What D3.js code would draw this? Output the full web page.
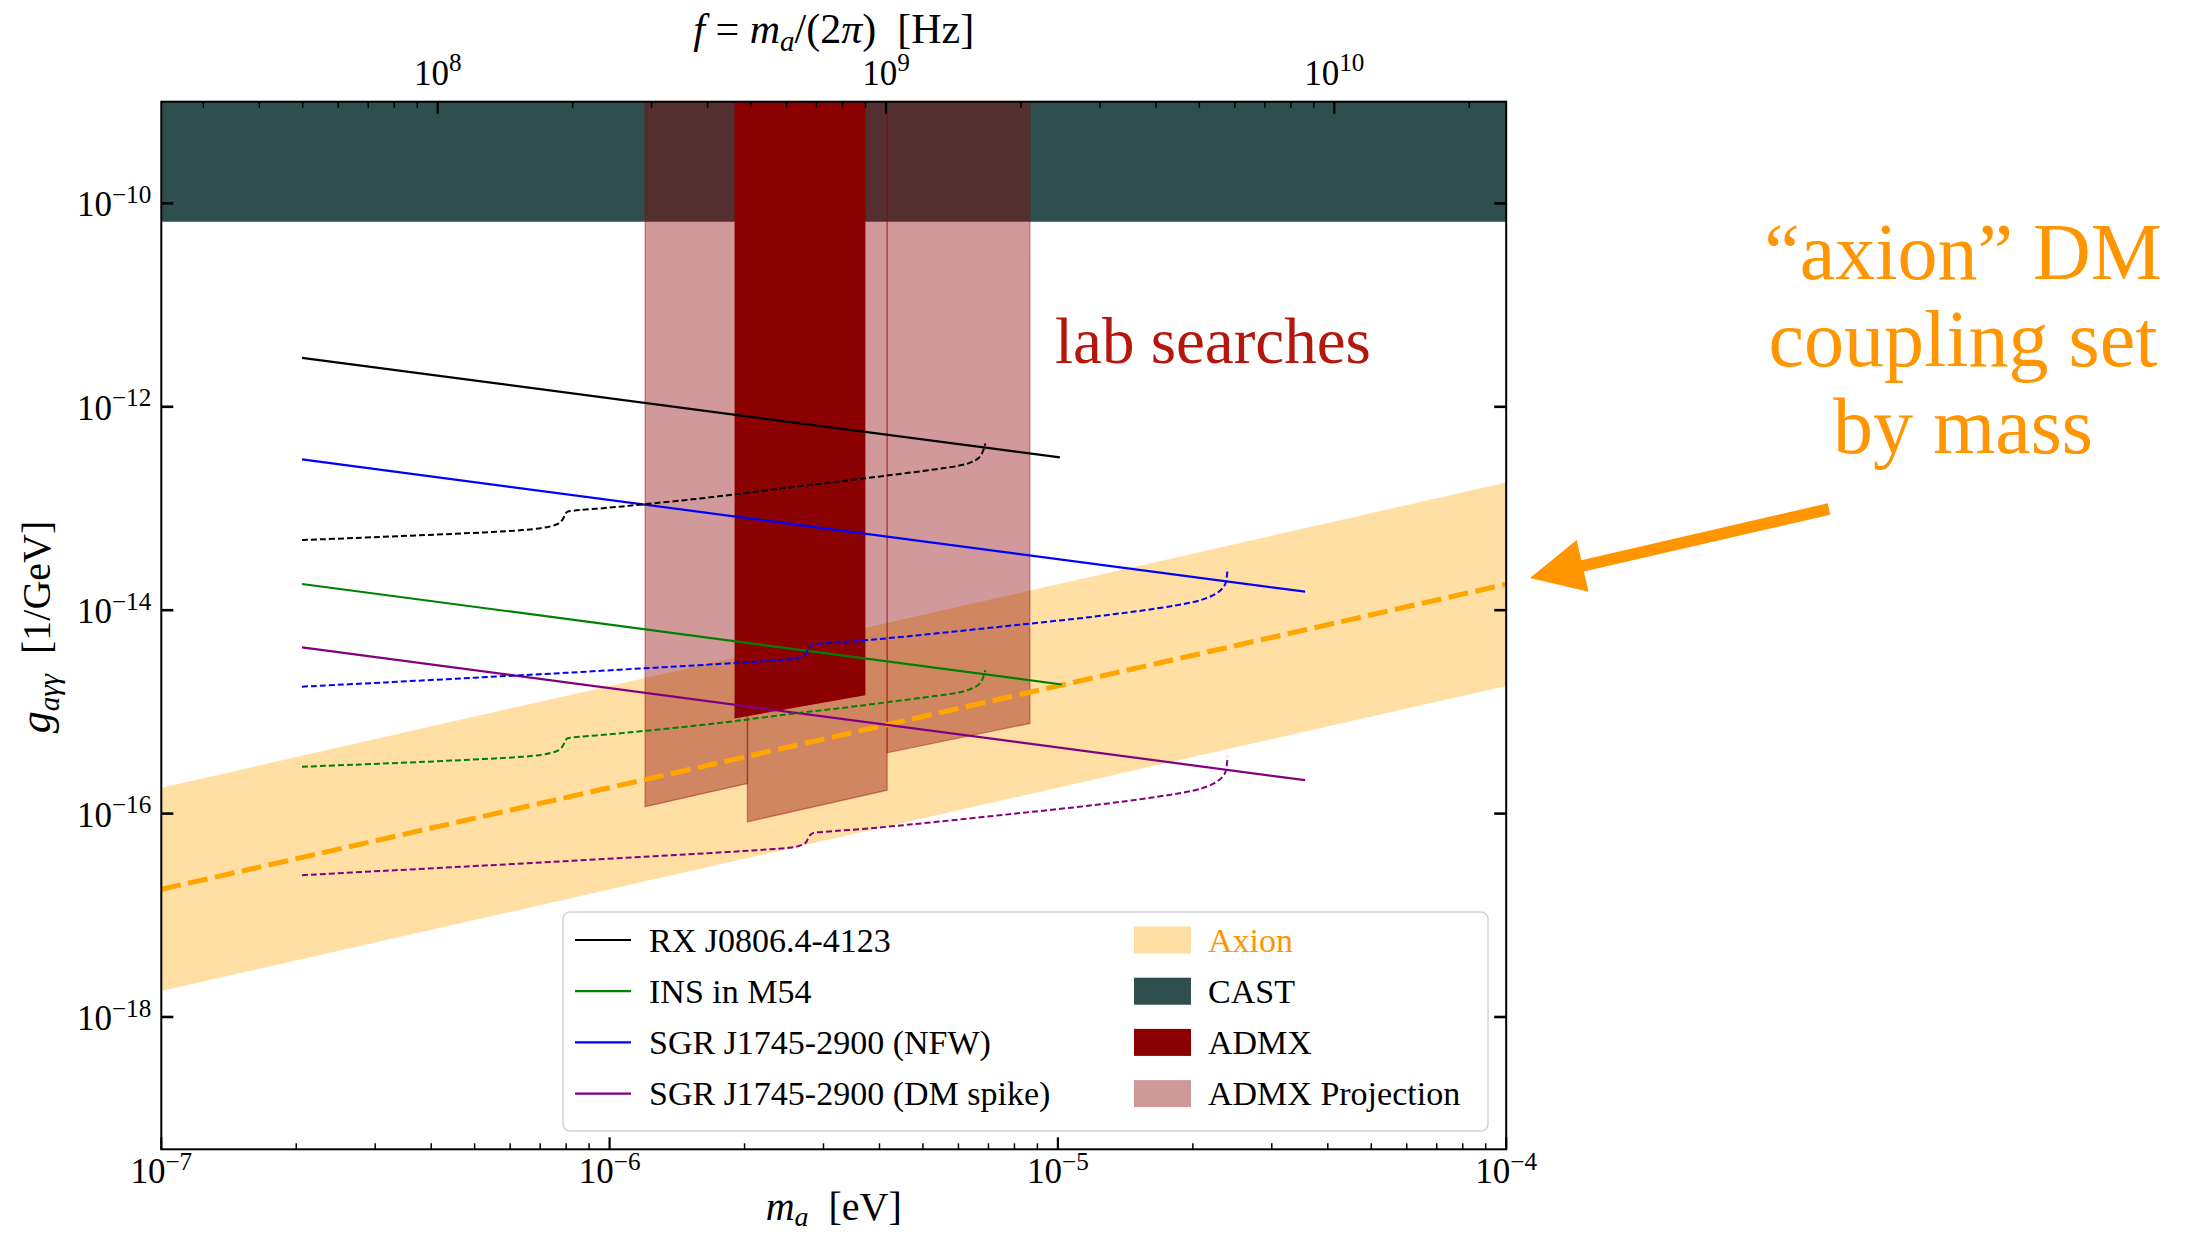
<!DOCTYPE html>
<html>
<head>
<meta charset="utf-8">
<script src="https://cdn.jsdelivr.net/npm/d3@7"></script>
<style>
  body { margin: 0; background: #fff; }
  text { font-family: "Liberation Serif", "Times New Roman", serif; }
</style>
</head>
<body>
<svg id="chart" width="2206" height="1241"></svg>
<script>
// ---- axis ranges and ticks ----
const massDomain = [1e-7, 1e-4];          // eV
const couplingDomain = [5e-20, 1e-9];     // 1/GeV
const eVtoHz = 2.418e14;                  // f = m / (2 pi hbar)
const massMajorTicks = [1e-7, 1e-6, 1e-5, 1e-4];
const couplingMajorTicks = [1e-18, 1e-16, 1e-14, 1e-12, 1e-10];
const freqMajorTicks = [1e8, 1e9, 1e10];

// ---- excluded / target regions ----
const castLimit = 6.6e-11;
const axionMass = [1e-7, 1e-4];
const axionCentral = [1.8e-17, 1.8e-14];
const axionLower = [1.8e-18, 1.8e-15];
const axionUpper = [1.8e-16, 1.8e-13];

const admxMass = [1.90e-6, 3.72e-6];
const admxFloor = [8.63e-16, 1.46e-15];

const projectionMass = [[1.20e-6, 2.03e-6], [2.03e-6, 4.16e-6], [4.16e-6, 8.66e-6]];
const projectionFloor = [[1.17e-16, 1.98e-16], [8.30e-17, 1.70e-16], [3.96e-16, 7.71e-16]];

// ---- neutron star radio limits (solid) ----
const rxMass = [2.06e-7, 1.01e-5];
const rxLimit = [3.03e-12, 3.18e-13];
const m54Mass = [2.06e-7, 1.02e-5];
const m54Limit = [1.81e-14, 1.86e-15];
const nfwMass = [2.06e-7, 3.56e-5];
const nfwLimit = [3.04e-13, 1.52e-14];
const spikeMass = [2.06e-7, 3.56e-5];
const spikeLimit = [4.31e-15, 2.13e-16];

// ---- projected sensitivity curves (dotted) ----
const isolatedReachMass = [2.06e-7, 2.67e-7, 3.88e-7, 5.24e-7, 6.39e-7, 7.06e-7, 7.42e-7, 7.70e-7,
  7.86e-7, 7.96e-7, 8.05e-7, 8.30e-7, 1.00e-6, 1.19e-6, 1.53e-6, 1.91e-6, 2.51e-6, 3.22e-6,
  4.13e-6, 5.30e-6, 6.00e-6, 6.39e-6, 6.64e-6, 6.77e-6, 6.84e-6, 6.89e-6];
const rxReach = [4.89e-14, 5.12e-14, 5.48e-14, 5.82e-14, 6.13e-14, 6.42e-14, 6.71e-14, 7.13e-14,
  7.81e-14, 8.74e-14, 9.29e-14, 9.50e-14, 1.02e-13, 1.10e-13, 1.23e-13, 1.38e-13, 1.61e-13, 1.83e-13,
  2.10e-13, 2.42e-13, 2.63e-13, 2.84e-13, 3.11e-13, 3.48e-13, 3.90e-13, 4.36e-13];
const m54Reach = [2.89e-16, 3.02e-16, 3.23e-16, 3.44e-16, 3.62e-16, 3.79e-16, 3.96e-16, 4.21e-16,
  4.61e-16, 5.16e-16, 5.48e-16, 5.61e-16, 6.02e-16, 6.49e-16, 7.26e-16, 8.14e-16, 9.50e-16, 1.08e-15,
  1.24e-15, 1.43e-15, 1.55e-15, 1.68e-15, 1.84e-15, 2.05e-15, 2.30e-15, 2.57e-15];

const galacticReachMass = [2.06e-7, 3.16e-7, 5.01e-7, 7.94e-7, 1.26e-6, 1.78e-6, 2.24e-6, 2.51e-6,
  2.66e-6, 2.74e-6, 2.77e-6, 2.81e-6, 2.85e-6, 3.02e-6, 3.98e-6, 5.37e-6, 7.94e-6, 1.20e-5,
  1.66e-5, 2.00e-5, 2.16e-5, 2.29e-5, 2.36e-5, 2.38e-5, 2.39e-5];
const nfwReach = [1.77e-15, 1.95e-15, 2.17e-15, 2.42e-15, 2.72e-15, 2.97e-15, 3.16e-15, 3.29e-15,
  3.45e-15, 3.70e-15, 4.06e-15, 4.45e-15, 4.61e-15, 4.71e-15, 5.20e-15, 5.92e-15, 7.09e-15, 8.63e-15,
  1.04e-14, 1.20e-14, 1.33e-14, 1.53e-14, 1.79e-14, 2.10e-14, 2.58e-14];
const spikeReach = [2.48e-17, 2.74e-17, 3.05e-17, 3.40e-17, 3.81e-17, 4.16e-17, 4.43e-17, 4.61e-17,
  4.84e-17, 5.19e-17, 5.69e-17, 6.24e-17, 6.46e-17, 6.61e-17, 7.29e-17, 8.30e-17, 9.95e-17, 1.21e-16,
  1.46e-16, 1.68e-16, 1.86e-16, 2.14e-16, 2.51e-16, 2.95e-16, 3.62e-16];

// ---- legend ----
const lineLegend = [
  { label: "RX J0806.4-4123", color: "#000000" },
  { label: "INS in M54", color: "#008000" },
  { label: "SGR J1745-2900 (NFW)", color: "#0000ff" },
  { label: "SGR J1745-2900 (DM spike)", color: "#800080" }
];
const patchLegend = [
  { label: "Axion", color: "#ffdea4", text: "#ff9500" },
  { label: "CAST", color: "#2f4f4f", text: "#000000" },
  { label: "ADMX", color: "#8b0000", text: "#000000" },
  { label: "ADMX Projection", color: "#d09999", text: "#000000" }
];

// ================= drawing =================
const W = 2206, H = 1241;
const plot = { left: 161.3, right: 1506.2, top: 101.7, bottom: 1149.3 };
const svg = d3.select("#chart");
svg.append("rect").attr("width", W).attr("height", H).attr("fill", "#fff");

const x = d3.scaleLog().domain(massDomain).range([plot.left, plot.right]);
const y = d3.scaleLog().domain(couplingDomain).range([plot.bottom, plot.top]);
const xf = d3.scaleLog().domain(massDomain.map(m => m * eVtoHz)).range([plot.left, plot.right]);

svg.append("defs").append("clipPath").attr("id", "plot-clip").append("rect")
  .attr("x", plot.left).attr("y", plot.top)
  .attr("width", plot.right - plot.left).attr("height", plot.bottom - plot.top);
const layer = svg.append("g").attr("clip-path", "url(#plot-clip)");

const zip = (ms, gs) => ms.map((m, i) => [m, gs[i]]);
const line = d3.line().x(d => x(d[0])).y(d => y(d[1]));
const smooth = d3.line().x(d => x(d[0])).y(d => y(d[1])).curve(d3.curveCatmullRom.alpha(0.5));

// axion band
layer.append("path")
  .datum(axionMass.map((m, i) => ({ m, lo: axionLower[i], hi: axionUpper[i] })))
  .attr("d", d3.area().x(d => x(d.m)).y0(d => y(d.lo)).y1(d => y(d.hi)))
  .attr("fill", "#ffa500").attr("fill-opacity", 0.36);

// CAST exclusion
layer.append("path")
  .datum(massDomain)
  .attr("d", d3.area().x(d => x(d)).y0(y(castLimit)).y1(y(couplingDomain[1])))
  .attr("fill", "#2f4f4f");

// ADMX projected reach
projectionMass.forEach((ms, i) => {
  const pts = [[ms[0], couplingDomain[1]], [ms[1], couplingDomain[1]],
               [ms[1], projectionFloor[i][1]], [ms[0], projectionFloor[i][0]]];
  layer.append("path").attr("d", line(pts) + "Z")
    .attr("fill", "#8b0000").attr("fill-opacity", 0.4)
    .attr("stroke", "#8b0000").attr("stroke-opacity", 0.4).attr("stroke-width", 1.3);
});

// ADMX exclusion
{
  const pts = [[admxMass[0], couplingDomain[1]], [admxMass[1], couplingDomain[1]],
               [admxMass[1], admxFloor[1]], [admxMass[0], admxFloor[0]]];
  layer.append("path").attr("d", line(pts) + "Z").attr("fill", "#8b0000");
}

// QCD axion relation
layer.append("path").datum(zip(axionMass, axionCentral)).attr("d", line)
  .attr("fill", "none").attr("stroke", "#ffa500").attr("stroke-width", 5)
  .attr("stroke-dasharray", "20 7.5");

// limits
const solid = [
  [rxMass, rxLimit, "#000000"], [m54Mass, m54Limit, "#008000"],
  [nfwMass, nfwLimit, "#0000ff"], [spikeMass, spikeLimit, "#800080"]
];
solid.forEach(([ms, gs, c]) => {
  layer.append("path").datum(zip(ms, gs)).attr("d", line)
    .attr("fill", "none").attr("stroke", c).attr("stroke-width", 2.2);
});
const dotted = [
  [isolatedReachMass, rxReach, "#000000"], [isolatedReachMass, m54Reach, "#008000"],
  [galacticReachMass, nfwReach, "#0000ff"], [galacticReachMass, spikeReach, "#800080"]
];
dotted.forEach(([ms, gs, c]) => {
  layer.append("path").datum(zip(ms, gs)).attr("d", smooth)
    .attr("fill", "none").attr("stroke", c).attr("stroke-width", 2)
    .attr("stroke-dasharray", "6 3");
});

// ---- frame and ticks ----
const axes = svg.append("g");
function powerText(sel, exp, size) {
  sel.append("tspan").attr("font-size", size).text("10");
  sel.append("tspan").attr("font-size", size * 0.72).attr("dy", -size * 0.38)
    .text(exp < 0 ? "\u2212" + (-exp) : String(exp));
}
const minorTicks = (lo, hi) => {
  const out = [];
  for (let e = Math.floor(Math.log10(lo)); e <= Math.ceil(Math.log10(hi)); e++)
    for (let k = 2; k <= 9; k++) { const v = k * Math.pow(10, e); if (v > lo && v < hi) out.push(v); }
  return out;
};

const tickMajor = 12, tickMinor = 6;
// bottom (mass)
massMajorTicks.forEach(v => {
  axes.append("line").attr("x1", x(v)).attr("x2", x(v)).attr("y1", plot.bottom).attr("y2", plot.bottom - tickMajor)
    .attr("stroke", "#000").attr("stroke-width", 2.2);
  axes.append("text").attr("x", x(v)).attr("y", plot.bottom + 34).attr("text-anchor", "middle")
    .call(powerText, Math.round(Math.log10(v)), 35);
});
minorTicks(massDomain[0], massDomain[1]).forEach(v => {
  axes.append("line").attr("x1", x(v)).attr("x2", x(v)).attr("y1", plot.bottom).attr("y2", plot.bottom - tickMinor)
    .attr("stroke", "#000").attr("stroke-width", 1.5);
});
// top (frequency)
freqMajorTicks.forEach(v => {
  axes.append("line").attr("x1", xf(v)).attr("x2", xf(v)).attr("y1", plot.top).attr("y2", plot.top + tickMajor)
    .attr("stroke", "#000").attr("stroke-width", 2.2);
  axes.append("text").attr("x", xf(v)).attr("y", plot.top - 17).attr("text-anchor", "middle")
    .call(powerText, Math.round(Math.log10(v)), 35);
});
minorTicks(xf.domain()[0], xf.domain()[1]).forEach(v => {
  axes.append("line").attr("x1", xf(v)).attr("x2", xf(v)).attr("y1", plot.top).attr("y2", plot.top + tickMinor)
    .attr("stroke", "#000").attr("stroke-width", 1.5);
});
// left / right (coupling)
couplingMajorTicks.forEach(v => {
  axes.append("line").attr("x1", plot.left).attr("x2", plot.left + tickMajor).attr("y1", y(v)).attr("y2", y(v))
    .attr("stroke", "#000").attr("stroke-width", 2.6);
  axes.append("line").attr("x1", plot.right).attr("x2", plot.right - tickMajor).attr("y1", y(v)).attr("y2", y(v))
    .attr("stroke", "#000").attr("stroke-width", 2.6);
  axes.append("text").attr("x", plot.left - 10).attr("y", y(v) + 13).attr("text-anchor", "end")
    .call(powerText, Math.round(Math.log10(v)), 35);
});
axes.append("rect").attr("x", plot.left).attr("y", plot.top)
  .attr("width", plot.right - plot.left).attr("height", plot.bottom - plot.top)
  .attr("fill", "none").attr("stroke", "#000").attr("stroke-width", 2);

// axis titles
const cx = (plot.left + plot.right) / 2;
{
  const t = svg.append("text").attr("x", cx).attr("y", 1220).attr("text-anchor", "middle").attr("font-size", 40);
  t.append("tspan").attr("font-style", "italic").text("m");
  t.append("tspan").attr("font-style", "italic").attr("font-size", 28).attr("dy", 6).text("a");
  t.append("tspan").attr("dy", -6).text("\u2002[eV]");
}
{
  const t = svg.append("text").attr("x", cx).attr("y", 43).attr("text-anchor", "middle").attr("font-size", 42);
  t.append("tspan").attr("font-style", "italic").text("f");
  t.append("tspan").text(" = ");
  t.append("tspan").attr("font-style", "italic").text("m");
  t.append("tspan").attr("font-style", "italic").attr("font-size", 29).attr("dy", 8).text("a");
  t.append("tspan").attr("dy", -8).text("/(2");
  t.append("tspan").attr("font-style", "italic").text("\u03c0");
  t.append("tspan").text(")\u2002[Hz]");
}
{
  const t = svg.append("text").attr("transform", "translate(50,627) rotate(-90)")
    .attr("text-anchor", "middle").attr("font-size", 40);
  t.append("tspan").attr("font-style", "italic").attr("font-size", 44).text("g");
  t.append("tspan").attr("font-style", "italic").attr("font-size", 29).attr("dy", 9).text("a\u03b3\u03b3");
  t.append("tspan").attr("dy", -9).text("\u2002[1/GeV]");
}

// ---- legend ----
const lg = svg.append("g");
lg.append("rect").attr("x", 563).attr("y", 912).attr("width", 925).attr("height", 219).attr("rx", 7)
  .attr("fill", "#fff").attr("fill-opacity", 0.8).attr("stroke", "#d3d3d3").attr("stroke-width", 1.5);
const rowY = i => 940 + i * 51.2;
lineLegend.forEach((d, i) => {
  lg.append("line").attr("x1", 575).attr("x2", 631).attr("y1", rowY(i)).attr("y2", rowY(i))
    .attr("stroke", d.color).attr("stroke-width", 2.2);
  lg.append("text").attr("x", 649).attr("y", rowY(i) + 11.5).attr("font-size", 34).text(d.label);
});
patchLegend.forEach((d, i) => {
  lg.append("rect").attr("x", 1134).attr("y", rowY(i) - 13.5).attr("width", 57).attr("height", 27)
    .attr("fill", d.color);
  lg.append("text").attr("x", 1208).attr("y", rowY(i) + 11.5).attr("font-size", 34)
    .attr("fill", d.text).text(d.label);
});

// ---- annotations ----
svg.append("text").attr("x", 1055).attr("y", 363).attr("font-size", 65).attr("fill", "#b5170e")
  .text("lab searches");
const note = svg.append("text").attr("text-anchor", "middle").attr("font-size", 80).attr("fill", "#ff9500");
["\u201caxion\u201d DM", "coupling set", "by mass"].forEach((s, i) => {
  note.append("tspan").attr("x", 1963).attr("y", 279 + i * 87).text(s);
});
// arrow pointing at the band
{
  const tail = [1829, 509], tip = [1530, 578];
  const dx = tip[0] - tail[0], dy = tip[1] - tail[1], L = Math.hypot(dx, dy);
  const ux = dx / L, uy = dy / L, nx = -uy, ny = ux;
  const shaft = 5.8, head = 26.5, headLen = 54;
  const bx = tip[0] - ux * headLen, by = tip[1] - uy * headLen;
  const p = [
    [tail[0] + nx * shaft, tail[1] + ny * shaft], [bx + nx * shaft, by + ny * shaft],
    [bx + nx * head, by + ny * head], tip, [bx - nx * head, by - ny * head],
    [bx - nx * shaft, by - ny * shaft], [tail[0] - nx * shaft, tail[1] - ny * shaft]
  ];
  svg.append("path").attr("d", "M" + p.map(q => q.join(",")).join("L") + "Z").attr("fill", "#ff9500");
}
</script>
</body>
</html>
